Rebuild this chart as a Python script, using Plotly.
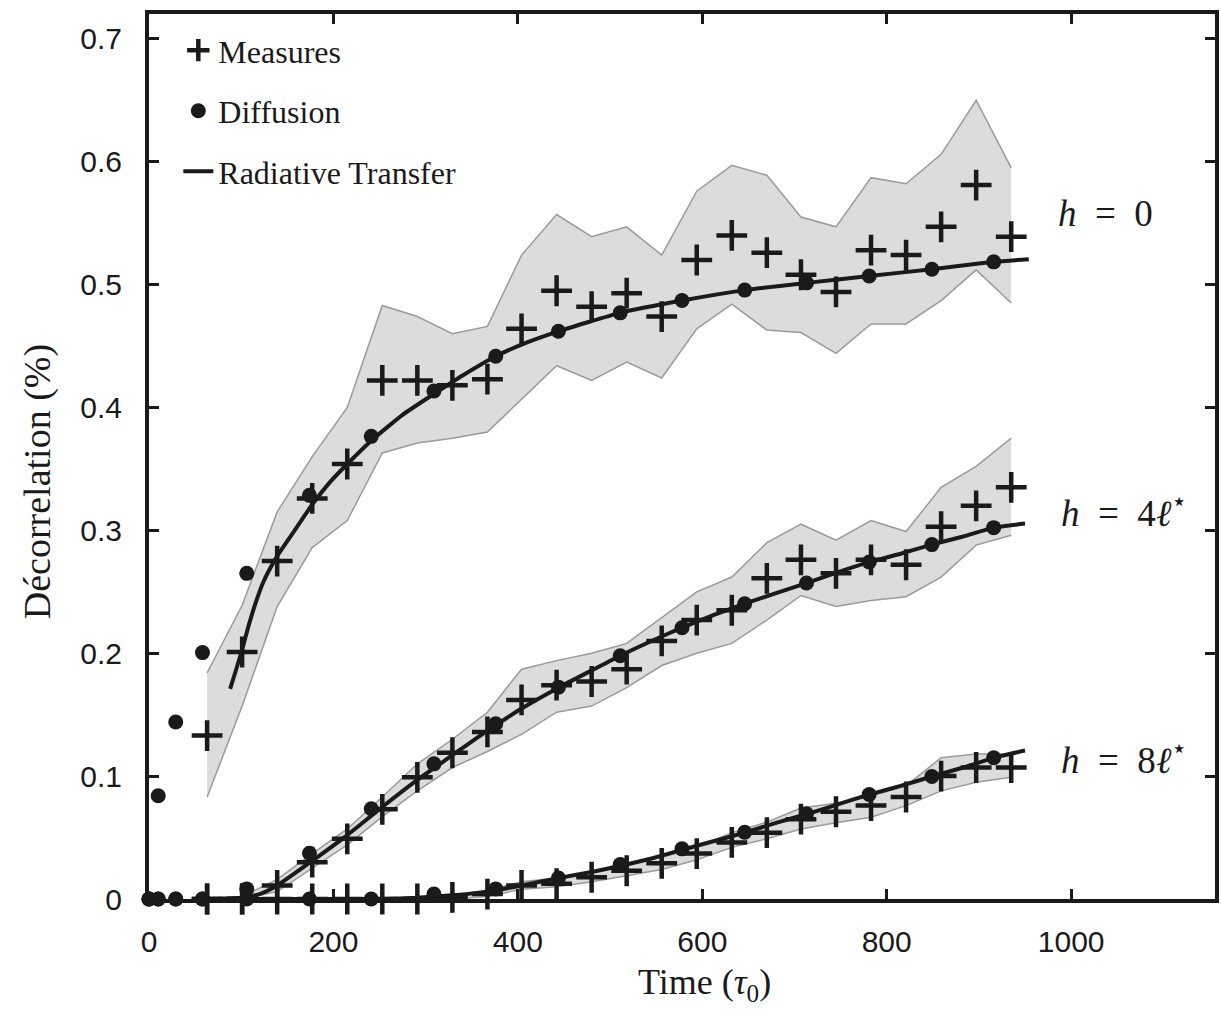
import plotly.graph_objects as go

# ---- measurement times (tau_0) and measured decorrelation (%) ----
t_meas = [63, 101, 139, 177, 215, 253, 291, 329, 367, 404, 442, 480,
          518, 556, 594, 632, 670, 707, 745, 783, 821, 859, 897, 935]

meas_h0 = [0.133, 0.201, 0.275, 0.326, 0.354, 0.422, 0.422, 0.418, 0.423, 0.464, 0.495, 0.482,
           0.493, 0.474, 0.520, 0.540, 0.526, 0.508, 0.494, 0.528, 0.524, 0.547, 0.581, 0.539]
meas_h4 = [0.0, 0.0, 0.011, 0.030, 0.049, 0.073, 0.099, 0.119, 0.136, 0.162, 0.174, 0.177,
           0.187, 0.210, 0.227, 0.235, 0.261, 0.276, 0.265, 0.276, 0.272, 0.303, 0.320, 0.335]
meas_h8 = [0.0, 0.0, 0.0, 0.0, 0.0, 0.0, 0.0, 0.0014, 0.004, 0.011, 0.0125, 0.0177,
           0.023, 0.029, 0.037, 0.046, 0.054, 0.065, 0.071, 0.076, 0.083, 0.100, 0.107, 0.107]

# spread of the measurements (upper / lower envelope)
up_h0 = [0.184, 0.239, 0.315, 0.360, 0.400, 0.483, 0.474, 0.460, 0.466, 0.524, 0.557, 0.539,
         0.547, 0.524, 0.576, 0.597, 0.589, 0.555, 0.547, 0.587, 0.582, 0.606, 0.650, 0.595]
lo_h0 = [0.083, 0.157, 0.238, 0.286, 0.308, 0.363, 0.371, 0.375, 0.380, 0.407, 0.434, 0.422,
         0.437, 0.424, 0.464, 0.484, 0.463, 0.461, 0.444, 0.468, 0.468, 0.487, 0.512, 0.485]
up_h4 = [0.0, 0.002, 0.016, 0.037, 0.057, 0.083, 0.110, 0.130, 0.152, 0.187, 0.194, 0.200,
         0.208, 0.229, 0.250, 0.262, 0.290, 0.305, 0.292, 0.308, 0.299, 0.335, 0.352, 0.375]
lo_h4 = [0.0, 0.0, 0.006, 0.025, 0.044, 0.067, 0.088, 0.107, 0.120, 0.134, 0.152, 0.157,
         0.172, 0.190, 0.200, 0.208, 0.227, 0.247, 0.238, 0.243, 0.246, 0.262, 0.288, 0.296]
up_h8 = [0.0, 0.0, 0.0, 0.0, 0.0, 0.0, 0.0, 0.003, 0.007, 0.014, 0.017, 0.022,
         0.028, 0.034, 0.042, 0.054, 0.0625, 0.074, 0.078, 0.084, 0.092, 0.115, 0.118, 0.118]
lo_h8 = [0.0, 0.0, 0.0, 0.0, 0.0, 0.0, 0.0, 0.0, 0.002, 0.008, 0.010, 0.014,
         0.019, 0.024, 0.032, 0.042, 0.049, 0.057, 0.062, 0.0665, 0.076, 0.088, 0.095, 0.099]

# ---- diffusion model ----
t_diff = [0, 10, 29, 58, 106, 174, 241, 309, 376, 444, 511, 578, 646, 713, 781, 849, 916]
diff_h0 = [0.0, 0.084, 0.144, 0.2005, 0.265, 0.3285, 0.3765, 0.4134, 0.4417, 0.462, 0.477,
           0.487, 0.4955, 0.5014, 0.507, 0.5125, 0.5185]
diff_h4 = [0.0, 0.0, 0.0, 0.0, 0.0082, 0.0372, 0.0734, 0.110, 0.1426, 0.1724, 0.198,
           0.2208, 0.2403, 0.2571, 0.2742, 0.2884, 0.3022]
diff_h8 = [0.0, 0.0, 0.0, 0.0, 0.0, 0.0, 0.0, 0.0041, 0.0082, 0.017, 0.028,
           0.0408, 0.0543, 0.0693, 0.085, 0.0997, 0.1149]

# ---- radiative transfer model ----
t_rt_h0 = [88, 95, 101, 109, 117, 124, 139, 158, 177, 196, 215, 241, 275, 309, 340, 376,
           410, 444, 511, 578, 646, 713, 781, 849, 916, 954]
rt_h0 = [0.171, 0.188, 0.203, 0.225, 0.244, 0.258, 0.279, 0.300, 0.321, 0.339, 0.354, 0.373,
         0.394, 0.411, 0.426, 0.4417, 0.453, 0.462, 0.477, 0.487, 0.4955, 0.5014, 0.507,
         0.5125, 0.5185, 0.5207]
t_rt = [60, 100, 120, 139, 177, 215, 253, 291, 329, 367, 404, 444, 480, 511, 545, 578, 612,
        646, 680, 713, 747, 781, 815, 849, 883, 916, 950]
rt_h4 = [0.0, 0.001, 0.004, 0.011, 0.031, 0.052, 0.075, 0.097, 0.117, 0.137, 0.155, 0.172,
         0.186, 0.198, 0.210, 0.2208, 0.231, 0.2403, 0.249, 0.2571, 0.266, 0.2742, 0.281,
         0.2884, 0.295, 0.3022, 0.3055]
rt_h8 = [0.0, 0.0, 0.0, 0.0, 0.0, 0.0, 0.0, 0.001, 0.003, 0.006, 0.011, 0.017,
         0.022, 0.027, 0.033, 0.040, 0.047, 0.054, 0.062, 0.069, 0.077, 0.085, 0.092,
         0.0997, 0.107, 0.1149, 0.1208]

EQ = "\u2002=\u2002"
curve_labels = [f"<i>h</i>{EQ}0",
                f"<i>h</i>{EQ}4<i>ℓ</i><sup>⋆</sup>",
                f"<i>h</i>{EQ}8<i>ℓ</i><sup>⋆</sup>"]
label_pos = [(1037, 0.558), (1057, 0.316), (1057, 0.115)]

INK = "#1a1a1a"
BAND_FILL = "#dcdcdc"
BAND_EDGE = "#9a9a9a"
SERIF = "Liberation Serif, DejaVu Serif, serif"
SANS = "Liberation Sans, Arial, sans-serif"

fig = go.Figure()

series = [
    (meas_h0, up_h0, lo_h0, diff_h0, t_rt_h0, rt_h0),
    (meas_h4, up_h4, lo_h4, diff_h4, t_rt, rt_h4),
    (meas_h8, up_h8, lo_h8, diff_h8, t_rt, rt_h8),
]

# shaded envelopes first, so everything else sits on top
for meas, up, lo, diff, trt, rt in series:
    fig.add_trace(go.Scatter(
        x=t_meas + t_meas[::-1], y=up + lo[::-1], mode="lines", fill="toself",
        fillcolor=BAND_FILL, line=dict(width=0), showlegend=False, hoverinfo="skip"))
    for edge in (up, lo):
        fig.add_trace(go.Scatter(
            x=t_meas, y=edge, mode="lines", line=dict(color=BAND_EDGE, width=1.5),
            showlegend=False, hoverinfo="skip"))

for i, (meas, up, lo, diff, trt, rt) in enumerate(series):
    first = i == 0
    fig.add_trace(go.Scatter(
        x=trt, y=rt, mode="lines", line=dict(color=INK, width=4, shape="spline", smoothing=0.5),
        name="Radiative Transfer", legendgroup="rt", legendrank=3, showlegend=first))
    fig.add_trace(go.Scatter(
        x=t_diff, y=diff, mode="markers", cliponaxis=False,
        marker=dict(symbol="circle", size=15, color=INK),
        name="Diffusion", legendgroup="diff", legendrank=2, showlegend=first))
    fig.add_trace(go.Scatter(
        x=t_meas, y=meas, mode="markers", cliponaxis=False,
        marker=dict(symbol="cross-thin", size=22, line=dict(color=INK, width=4.5)),
        name="Measures", legendgroup="meas", legendrank=1, showlegend=first))

for text, (xx, yy) in zip(curve_labels, label_pos):
    fig.add_annotation(x=xx, y=yy, xref="x", yref="y", text=text, showarrow=False,
                       font=dict(family=SERIF, size=37, color=INK), xanchor="center")

# axis titles
fig.add_annotation(x=0.5215, y=-0.097, xref="paper", yref="paper",
                   text="Time (<i>τ</i><sub>0</sub>)", showarrow=False,
                   xanchor="center", yanchor="middle",
                   font=dict(family=SERIF, size=36, color=INK))
fig.add_annotation(x=-0.105, y=0.471, xref="paper", yref="paper",
                   text="Décorrelation (%)", showarrow=False, textangle=-90,
                   xanchor="center", yanchor="middle",
                   font=dict(family=SERIF, size=38, color=INK))

axis_common = dict(
    showline=True, linewidth=4, linecolor=INK, mirror="allticks",
    ticks="inside", ticklen=10, tickwidth=3, tickcolor=INK,
    showgrid=False, zeroline=False,
    tickfont=dict(family=SANS, size=30, color=INK),
)

fig.update_xaxes(range=[0, 1156], tickvals=[0, 200, 400, 600, 800, 1000],
                 ticklabelstandoff=13, **axis_common)
fig.update_yaxes(range=[0, 0.7202], tickvals=[0, 0.1, 0.2, 0.3, 0.4, 0.5, 0.6, 0.7],
                 ticktext=["0", "0.1", "0.2", "0.3", "0.4", "0.5", "0.6", "0.7"],
                 ticklabelstandoff=17, **axis_common)

fig.update_layout(
    width=1221, height=1012,
    margin=dict(l=149, r=2, t=14, b=113),
    paper_bgcolor="white", plot_bgcolor="white",
    legend=dict(x=0.0275, y=0.99, xanchor="left", yanchor="top",
                bgcolor="rgba(0,0,0,0)", tracegroupgap=16,
                font=dict(family=SERIF, size=32, color=INK)),
)

fig.write_html("out.html")
